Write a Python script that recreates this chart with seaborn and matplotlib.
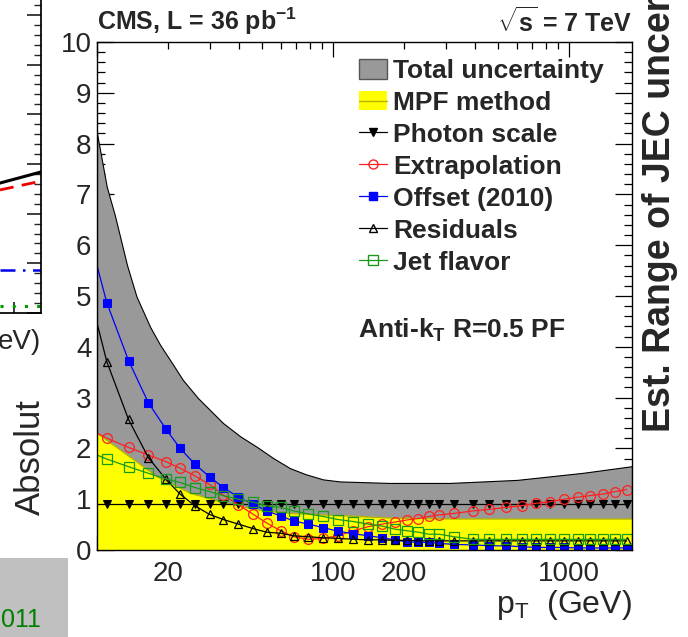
import numpy as np
import matplotlib
matplotlib.use("Agg")
import matplotlib.pyplot as plt
import matplotlib.ticker as mticker
from matplotlib.lines import Line2D
from matplotlib.patches import Patch, Rectangle
from matplotlib.legend_handler import HandlerTuple
import seaborn as sns

# --- data ---
pt = [10, 11, 13.6, 16.5, 19.6, 22.5, 26, 30, 34.3, 39.7, 46, 52.4, 60, 68.3, 78.6,
      91, 105, 122, 141, 162, 183, 205, 230, 255, 282, 327, 391, 459, 541, 630,
      725, 830, 955, 1089, 1227, 1389, 1567, 1755]
photon = [0.9, 0.9, 0.9, 0.9, 0.9, 0.9, 0.9, 0.9, 0.9, 0.9, 0.9, 0.9, 0.9, 0.9, 0.9,
          0.9, 0.9, 0.9, 0.9, 0.9, 0.9, 0.9, 0.9, 0.9, 0.9, 0.9, 0.9, 0.9, 0.9, 0.9,
          0.9, 0.9, 0.9, 0.9, 0.9, 0.9, 0.9, 0.9]
extrap = [2.30, 2.20, 2.02, 1.87, 1.74, 1.61, 1.46, 1.29, 1.08, 0.89, 0.70, 0.53, 0.38,
          0.26, 0.21, 0.23, 0.28, 0.38, 0.46, 0.51, 0.55, 0.59, 0.62, 0.66, 0.69, 0.72,
          0.77, 0.80, 0.84, 0.87, 0.92, 0.95, 1.00, 1.04, 1.07, 1.10, 1.15, 1.19]
offset = [5.6, 4.87, 3.73, 2.90, 2.38, 2.00, 1.69, 1.44, 1.23, 1.04, 0.90, 0.77, 0.67,
          0.57, 0.51, 0.44, 0.37, 0.32, 0.28, 0.24, 0.20, 0.16, 0.15, 0.15, 0.13, 0.11,
          0.10, 0.085, 0.08, 0.066, 0.05, 0.05, 0.05, 0.04, 0.04, 0.04, 0.04, 0.04]
residual = [4.47, 3.71, 2.57, 1.82, 1.39, 1.10, 0.87, 0.70, 0.60, 0.51, 0.42, 0.35, 0.33,
            0.28, 0.26, 0.24, 0.23, 0.21, 0.20, 0.20, 0.19, 0.19, 0.18, 0.18, 0.18, 0.18,
            0.18, 0.18, 0.18, 0.18, 0.18, 0.18, 0.18, 0.18, 0.18, 0.18, 0.18, 0.18]
flavor = [1.87, 1.79, 1.64, 1.51, 1.40, 1.33, 1.23, 1.15, 1.07, 1.00, 0.94, 0.87, 0.84,
          0.77, 0.71, 0.66, 0.60, 0.56, 0.51, 0.47, 0.41, 0.38, 0.35, 0.31, 0.31, 0.26,
          0.21, 0.21, 0.21, 0.21, 0.21, 0.21, 0.21, 0.21, 0.21, 0.21, 0.21, 0.21]

total_pt = [10, 11, 11.9, 13.4, 14.7, 16.8, 18.5, 20.4, 23.1, 26.8, 34.2, 40.4, 47.6,
            55.8, 65.8, 76.8, 90.8, 106.8, 174, 313, 603, 1150, 1850]
total = [8.2, 7.15, 6.59, 5.61, 4.99, 4.39, 4.04, 3.74, 3.35, 2.99, 2.50, 2.24, 2.03,
         1.81, 1.61, 1.49, 1.39, 1.35, 1.32, 1.32, 1.38, 1.52, 1.65]
mpf_pt = [10, 12.9, 18, 24.8, 34.2, 47.6, 65.8, 90.8, 174, 313, 1850]
mpf = [2.30, 1.93, 1.44, 1.12, 0.93, 0.79, 0.72, 0.69, 0.63, 0.61, 0.61]

# neighbouring panel (cropped), read in its own units
left_x = [0, 1]
left_black = [34.0, 36.9]
left_red = [32.2, 34.5]
left_blue = [11.2, 11.2]
left_green = [1.8, 1.8]

sns.set_theme(style="ticks")
plt.rcParams["font.family"] = ["Liberation Sans", "DejaVu Sans"]
plt.rcParams["mathtext.fontset"] = "custom"
plt.rcParams["mathtext.rm"] = "Liberation Sans"
plt.rcParams["mathtext.bf"] = "Liberation Sans:bold"
plt.rcParams["mathtext.it"] = "Liberation Sans:italic"

fig = plt.figure(figsize=(6.88, 6.37), dpi=100)
ax = fig.add_axes([97 / 688, 87 / 637, 535 / 688, 508 / 637])

ax.fill_between(total_pt, 0, total, facecolor="#999999", edgecolor="black", linewidth=0.8, zorder=1)
ax.fill_between(mpf_pt, 0, mpf, facecolor="#ffff00", edgecolor="none", zorder=2)
ax.plot(mpf_pt, mpf, color="#b5b500", lw=1.0, zorder=2)

mk = slice(1, None)
sns.lineplot(x=pt, y=photon, ax=ax, color="black", lw=0.9, marker="v", markersize=6,
             markerfacecolor="black", markeredgecolor="black", markevery=mk, zorder=3)
sns.lineplot(x=pt, y=extrap, ax=ax, color="#ff2020", lw=0.9, marker="o", markersize=7,
             markerfacecolor="none", markeredgecolor="#ff2020", markeredgewidth=0.9, markevery=mk, zorder=4)
sns.lineplot(x=pt, y=offset, ax=ax, color="#0000ff", lw=0.9, marker="s", markersize=6,
             markerfacecolor="#0000ff", markeredgecolor="#0000ff", markevery=mk, zorder=4)
sns.lineplot(x=pt, y=residual, ax=ax, color="black", lw=0.9, marker="^", markersize=6,
             markerfacecolor="none", markeredgecolor="black", markeredgewidth=0.9, markevery=mk, zorder=4)
sns.lineplot(x=pt, y=flavor, ax=ax, color="#1a9a1a", lw=0.9, marker="s", markersize=7,
             markerfacecolor="none", markeredgecolor="#1a9a1a", markeredgewidth=0.9, markevery=mk, zorder=4)

ax.set_xscale("log")
ax.set_xlim(10, 1850)
ax.set_ylim(0, 10)
ax.set_xlabel("")
ax.set_ylabel("")

ax.xaxis.set_major_locator(mticker.FixedLocator([10, 100, 1000]))
ax.xaxis.set_minor_locator(mticker.LogLocator(base=10, subs=np.arange(2, 10)))
ax.xaxis.set_major_formatter(mticker.FuncFormatter(lambda v, p: f"{v:.0f}" if v in (100, 1000) else ""))
ax.xaxis.set_minor_formatter(mticker.FuncFormatter(lambda v, p: f"{v:.0f}" if round(v) in (20, 200) else ""))
ax.yaxis.set_major_locator(mticker.MultipleLocator(1))
ax.yaxis.set_minor_locator(mticker.MultipleLocator(0.2))
ax.tick_params(which="both", direction="in", top=True, right=True, labelsize=20, color="black")
ax.tick_params(axis="x", which="major", length=11, width=0.9, pad=8)
ax.tick_params(axis="x", which="minor", length=5, width=0.9, pad=8, labelsize=20)
ax.tick_params(axis="y", which="major", length=12, width=0.9, pad=4)
ax.tick_params(axis="y", which="minor", length=6, width=0.9)
for s in ax.spines.values():
    s.set_color("black")
    s.set_linewidth(1.0)
    s.set_zorder(6)

handles = [
    Patch(facecolor="#999999", edgecolor="#555555"),
    (Patch(facecolor="#ffff00", edgecolor="none"), Line2D([], [], color="#b5b500", lw=1)),
    Line2D([], [], color="black", lw=0.9, marker="v", ms=6, mfc="black", mec="black"),
    Line2D([], [], color="#ff2020", lw=0.9, marker="o", ms=6.5, mfc="none", mec="#ff2020"),
    Line2D([], [], color="#0000ff", lw=0.9, marker="s", ms=6, mfc="#0000ff", mec="#0000ff"),
    Line2D([], [], color="black", lw=0.9, marker="^", ms=6, mfc="none", mec="black"),
    Line2D([], [], color="#1a9a1a", lw=0.9, marker="s", ms=6.5, mfc="none", mec="#1a9a1a"),
]
labels = ["Total uncertainty", "MPF method", "Photon scale", "Extrapolation",
          "Offset (2010)", "Residuals", "Jet flavor"]
leg = ax.legend(handles=handles, labels=labels, loc="upper left", bbox_to_anchor=(0.45, 1.008),
                frameon=False, prop={"weight": "bold", "size": 19}, handlelength=1.06,
                handleheight=0.75, handletextpad=0.23, labelspacing=0.3, borderpad=0.3,
                handler_map={tuple: HandlerTuple(ndivide=1, pad=0)})
leg.set_zorder(7)

ax.text(0.488, 0.433, r"Anti-k$_{\mathbf{T}}$ R=0.5 PF", transform=ax.transAxes,
        ha="left", va="center", fontsize=19, fontweight="bold")
ax.text(0.0, 1.01, r"CMS, L = 36 pb$^{\mathbf{-1}}$", transform=ax.transAxes,
        ha="left", va="bottom", fontsize=18, fontweight="bold")
ax.text(1.0, 1.01, r"$\sqrt{\mathbf{s}}$ = 7 TeV", transform=ax.transAxes,
        ha="right", va="bottom", fontsize=18, fontweight="bold")
fig.text(632 / 688, (637 - 605) / 637, r"p$_{\mathrm{T}}$  (GeV)", ha="right", va="center", fontsize=23)

# cropped neighbouring panel on the left
axl = fig.add_axes([0, (637 - 313) / 637, 41 / 688, 0.6])
axl.plot(left_x, left_black, color="black", lw=2.2)
axl.plot(left_x, left_red, color="#ee0000", lw=2.0, ls=(0, (5, 3)))
axl.plot(left_x, left_blue, color="#0000ee", lw=1.8, ls=(0, (6, 3, 1, 3)))
axl.plot(left_x, left_green, color="#009900", lw=2.2, ls=(0, (1, 3)))
axl.set_xlim(0, 1)
axl.set_ylim(0, 100)
axl.spines["left"].set_visible(False)
axl.spines["top"].set_visible(False)
axl.spines["right"].set_color("black")
axl.spines["bottom"].set_color("black")
axl.yaxis.tick_right()
axl.yaxis.set_major_locator(mticker.MultipleLocator(13))
axl.yaxis.set_minor_locator(mticker.MultipleLocator(2.6))
axl.xaxis.set_major_locator(mticker.FixedLocator([0.35]))
axl.tick_params(which="both", direction="in", labelleft=False, labelright=False, labelbottom=False)
axl.tick_params(axis="y", which="major", length=10)
axl.tick_params(axis="y", which="minor", length=5)
axl.tick_params(axis="x", which="major", length=8)

fig.text(41 / 688, (637 - 342) / 637, "eV)", ha="right", va="center", fontsize=20)
fig.text(30 / 688, (637 - 457) / 637, "Absolut", rotation=90, ha="center", va="center", fontsize=25)
fig.patches.append(Rectangle((0, 0), 68 / 688, 79 / 637, transform=fig.transFigure,
                             facecolor="#c0c0c0", edgecolor="none", zorder=0))
fig.text(1 / 688, (637 - 620) / 637, "011", ha="left", va="center", fontsize=18, color="#008000")
fig.text(660 / 688, (637 - 432) / 637, "Est. Range of JEC uncertainty", rotation=90,
         ha="center", va="bottom", fontsize=27, fontweight="bold")

fig.savefig("out.png", dpi=100)
